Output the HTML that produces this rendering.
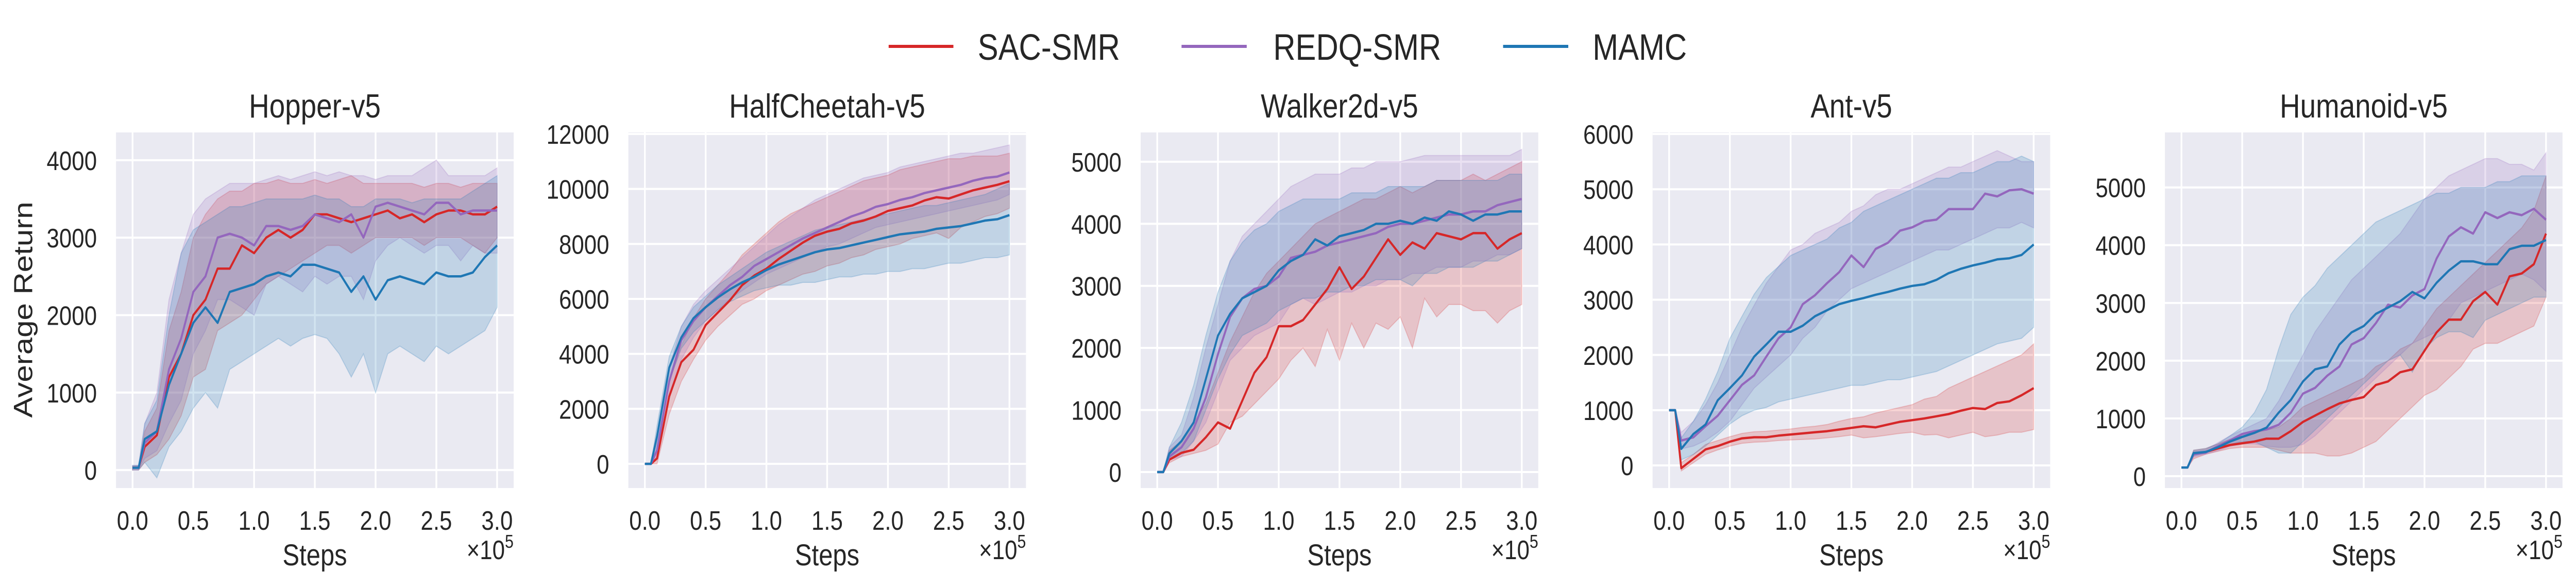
<!DOCTYPE html>
<html><head><meta charset="utf-8"><style>
html,body{margin:0;padding:0;background:#fff;width:100%;height:100%;overflow:hidden;}
svg{display:block;width:100vw;height:100vh;font-family:"Liberation Sans",Arial,sans-serif;}
</style></head><body>
<svg id="fig" viewBox="0 0 5928 1141" preserveAspectRatio="none" xmlns="http://www.w3.org/2000/svg">
<g>
<line x1="2045" y1="90" x2="2194" y2="90" stroke="#d62728" stroke-width="6"/>
<text x="2250" y="116" font-size="71" fill="#262626">SAC-SMR</text>
<line x1="2719" y1="90" x2="2869" y2="90" stroke="#9467bd" stroke-width="6"/>
<text x="2930" y="116" font-size="71" fill="#262626">REDQ-SMR</text>
<line x1="3459" y1="90" x2="3609" y2="90" stroke="#1f77b4" stroke-width="6"/>
<text x="3665" y="116" font-size="71" fill="#262626">MAMC</text>
</g>
<text transform="translate(74,601) rotate(-90)" text-anchor="middle" font-size="60" fill="#262626">Average Return</text>
</svg>
<script>
const steps = [0,0.05,0.1,0.2,0.3,0.4,0.5,0.6,0.7,0.8,0.9,1.0,1.1,1.2,1.3,1.4,1.5,1.6,1.7,1.8,1.9,2.0,2.1,2.2,2.3,2.4,2.5,2.6,2.7,2.8,2.9,3.0];
const xTicks = [0,0.5,1.0,1.5,2.0,2.5,3.0];
const xTickLabels = ["0.0","0.5","1.0","1.5","2.0","2.5","3.0"];
const seriesNames = ["SAC-SMR","REDQ-SMR","MAMC"];
const panelTitles = ["Hopper-v5","HalfCheetah-v5","Walker2d-v5","Ant-v5","Humanoid-v5"];
const yTicksHopper = [0,1000,2000,3000,4000];
const yTicksCheetah = [0,2000,4000,6000,8000,10000,12000];
const yTicksWalker = [0,1000,2000,3000,4000,5000];
const yTicksAnt = [0,1000,2000,3000,4000,5000,6000];
const yTicksHumanoid = [0,1000,2000,3000,4000,5000];

// Hopper
const hopSacMean=[30,30,300,450,1200,1500,2000,2200,2600,2600,2900,2800,3000,3100,3000,3100,3300,3300,3250,3200,3250,3300,3350,3250,3300,3200,3300,3350,3350,3300,3300,3400];
const hopSacLow=[0,0,100,200,400,700,1200,1300,1800,1900,2000,2200,2400,2500,2600,2700,2800,2900,2900,2800,2900,3000,3000,3000,3000,2900,3000,3000,3000,2900,2800,3000];
const hopSacHigh=[50,50,500,800,1800,2300,3000,3300,3500,3600,3600,3700,3700,3750,3700,3700,3750,3700,3750,3800,3700,3700,3700,3700,3700,3650,3700,3700,3650,3700,3700,3700];
const hopRedqMean=[30,30,350,500,1300,1700,2300,2500,3000,3050,3000,2900,3150,3150,3100,3150,3300,3250,3200,3300,3000,3400,3450,3400,3350,3300,3450,3450,3300,3350,3350,3350];
const hopRedqLow=[0,0,150,250,600,900,1500,1800,2200,2200,2100,2000,2400,2500,2400,2300,2500,2400,2500,2500,2200,2700,2900,3000,2900,2800,2900,2900,2700,2900,2800,2800];
const hopRedqHigh=[60,60,600,1000,2200,2800,3300,3500,3600,3700,3700,3700,3750,3800,3750,3800,3850,3800,3850,3800,3800,3750,3800,3800,3800,3900,4000,3800,3800,3800,3800,3900];
const hopMamcMean=[30,30,400,500,1100,1500,1900,2100,1900,2300,2350,2400,2500,2550,2500,2650,2650,2600,2550,2300,2500,2200,2450,2500,2450,2400,2550,2500,2500,2550,2750,2900];
const hopMamcLow=[0,0,100,-100,300,500,800,1000,800,1300,1400,1500,1600,1700,1600,1700,1750,1700,1500,1200,1500,1000,1500,1600,1500,1400,1600,1500,1600,1700,1800,2100];
const hopMamcHigh=[60,60,600,900,2000,2800,3100,3200,3300,3400,3400,3450,3500,3500,3500,3500,3550,3500,3500,3400,3400,3500,3500,3500,3450,3500,3500,3500,3500,3600,3700,3800];

// HalfCheetah
const hcSacMean=[0,0,200,2450,3700,4150,5050,5500,5950,6500,6850,7100,7450,7750,8050,8300,8450,8550,8750,8850,9000,9200,9300,9400,9580,9700,9650,9800,9950,10050,10150,10280];
const hcSacLow=[0,0,0,1800,3000,3800,4500,5000,5400,5800,6000,6300,6500,6700,6900,7000,7200,7300,7500,7600,7800,7900,8000,8200,8300,8400,8200,8600,8800,9000,9100,9300];
const hcSacHigh=[0,0,400,3000,4300,5300,6000,6500,7000,7600,8000,8400,8800,9100,9300,9500,9700,9900,10100,10300,10400,10500,10700,10800,10900,11000,11100,11100,11200,11200,11200,11300];
const hcRedqMean=[0,0,500,3000,4500,5200,5700,6100,6500,6800,7200,7450,7700,7950,8200,8400,8600,8800,9000,9150,9350,9450,9600,9700,9850,9950,10050,10150,10300,10400,10450,10600];
const hcRedqLow=[0,0,200,2500,3800,4600,5200,5600,6000,6300,6600,6900,7100,7300,7500,7700,7900,8000,8200,8400,8600,8700,8800,8900,9000,9100,9200,9300,9400,9500,9600,9800];
const hcRedqHigh=[0,0,800,3500,5000,5800,6300,6700,7100,7500,7900,8300,8700,9000,9300,9600,9800,10000,10200,10400,10500,10600,10800,10900,11000,11100,11200,11300,11300,11400,11500,11600];
const hcMamcMean=[0,0,1000,3500,4600,5300,5700,6050,6350,6600,6800,7050,7250,7400,7550,7700,7800,7850,7950,8050,8150,8250,8350,8400,8450,8550,8600,8650,8750,8850,8900,9050];
const hcMamcLow=[0,0,500,3000,4200,4800,5200,5600,5900,6100,6300,6400,6500,6500,6600,6600,6700,6800,6800,6900,6900,7000,7000,7100,7100,7200,7300,7300,7400,7500,7500,7600];
const hcMamcHigh=[0,0,1400,3900,5000,5700,6100,6500,6800,7100,7400,7700,7900,8100,8300,8500,8600,8700,8800,8900,9000,9100,9200,9300,9400,9400,9500,9600,9700,9800,10000,10200];

// Walker2d
const wkSacMean=[0,0,200,310,360,560,800,700,1150,1600,1850,2350,2350,2450,2700,2950,3300,2950,3150,3450,3750,3500,3700,3600,3850,3800,3750,3850,3850,3600,3750,3850];
const wkSacLow=[0,0,150,250,300,350,450,800,900,1100,1300,1500,1800,2000,1700,2300,1800,2400,2000,2400,2300,2500,2000,2800,2500,2700,2700,2600,2600,2400,2600,2700];
const wkSacHigh=[0,0,350,500,800,1100,1600,2100,2500,2900,3200,3400,3600,3800,4000,4100,4200,4300,4400,4400,4500,4600,4500,4600,4700,4700,4700,4800,4700,4800,4900,5000];
const wkRedqMean=[0,0,250,400,700,1200,1900,2500,2800,2950,3000,3150,3450,3500,3550,3650,3700,3750,3800,3850,3950,4000,4000,4050,4100,4150,4150,4200,4200,4300,4350,4400];
const wkRedqLow=[0,0,200,250,500,800,1300,1800,2000,2200,2300,2400,2700,2800,2700,2800,2900,2900,3000,3000,3100,3100,3200,3200,3300,3300,3300,3400,3400,3500,3500,3600];
const wkRedqHigh=[0,0,400,600,1200,2000,2700,3400,3800,4000,4200,4400,4600,4700,4800,4800,4800,4900,4900,5000,5000,5000,5050,5100,5100,5100,5100,5100,5100,5100,5100,5200];
const wkMamcMean=[0,0,300,500,800,1500,2200,2550,2800,2900,3000,3250,3400,3500,3750,3650,3800,3850,3900,4000,4000,4050,4000,4100,4050,4200,4150,4050,4150,4150,4200,4200];
const wkMamcLow=[0,0,200,300,500,1000,1500,1900,2200,2300,2400,2600,2700,2800,2800,2900,2900,3000,3000,3100,3100,3100,3000,3200,3200,3300,3300,3300,3400,3400,3500,3600];
const wkMamcHigh=[0,0,400,800,1400,2200,2900,3400,3700,3900,4000,4200,4300,4400,4400,4400,4400,4500,4500,4500,4600,4600,4600,4600,4700,4700,4700,4700,4700,4700,4800,4800];

// Ant
const antSacMean=[1000,1000,-50,120,290,350,430,490,510,510,540,560,580,600,620,650,680,710,690,740,790,820,850,890,930,990,1040,1020,1130,1160,1270,1400];
const antSacLow=[1000,1000,-100,50,200,280,350,400,420,430,450,460,470,480,500,520,550,500,520,550,580,600,550,560,500,550,600,520,550,600,600,650];
const antSacHigh=[1000,1000,50,200,380,450,520,580,610,620,640,660,690,710,740,800,850,880,950,1000,1050,1100,1200,1250,1400,1500,1600,1700,1800,1900,2000,2200];
const antRedqMean=[1000,1000,450,510,710,900,1180,1460,1630,1970,2300,2500,2920,3080,3300,3500,3800,3590,3920,4030,4250,4310,4420,4450,4640,4640,4640,4920,4870,4980,5000,4920];
const antRedqLow=[1000,1000,300,350,450,600,800,1100,1400,1600,1800,2000,2300,2500,2800,3000,3200,3300,3400,3500,3600,3700,3800,3900,3900,4000,4100,4200,4300,4300,4400,4300];
const antRedqHigh=[1000,1000,600,800,1100,1500,2000,2500,2900,3300,3600,3900,4000,4200,4300,4400,4600,4700,4900,5000,5000,5100,5200,5300,5400,5400,5500,5600,5700,5600,5500,5500];
const antMamcMean=[1000,1000,300,570,740,1180,1400,1630,1970,2190,2420,2420,2530,2700,2810,2920,2980,3030,3090,3140,3200,3250,3280,3360,3480,3560,3620,3670,3730,3750,3810,4000];
const antMamcLow=[1000,1000,100,200,350,550,750,900,1000,1050,1150,1200,1250,1300,1350,1400,1450,1450,1500,1550,1550,1600,1650,1700,1800,1900,2000,2100,2200,2250,2300,2500];
const antMamcHigh=[1000,1000,500,800,1200,1700,2300,2700,3100,3400,3600,3800,3900,4000,4100,4300,4400,4600,4700,4800,4900,5000,5100,5200,5200,5300,5300,5400,5500,5500,5600,5500];

// Humanoid
const humSacMean=[150,150,380,420,480,540,570,600,650,650,780,940,1050,1160,1260,1320,1370,1580,1640,1800,1850,2170,2490,2710,2710,3030,3190,2970,3460,3510,3670,4200];
const humSacLow=[150,150,300,380,430,480,500,500,500,450,400,400,400,350,350,400,500,600,800,1000,1200,1400,1500,1700,1900,2200,2300,2300,2400,2500,2600,3100];
const humSacHigh=[150,150,450,480,560,640,700,750,800,850,1000,1200,1300,1400,1500,1600,1700,1900,2000,2200,2300,2600,2900,3100,3300,3500,3700,3900,4100,4300,4600,5200];
const humRedqMean=[150,150,380,410,520,620,730,780,810,890,1100,1430,1530,1740,1900,2280,2390,2650,2970,2920,3130,3240,3770,4150,4310,4200,4570,4470,4570,4520,4630,4440];
const humRedqLow=[150,150,330,380,440,520,560,560,520,500,500,550,700,900,1100,1300,1500,1700,1900,2100,2300,2400,2500,2700,3000,3100,3200,3300,3400,3500,3400,3200];
const humRedqHigh=[150,150,430,460,580,700,800,900,1000,1300,1700,2100,2500,2800,3100,3400,3600,3800,4000,4200,4500,4800,5000,5200,5300,5400,5500,5500,5400,5400,5300,5600];
const humMamcMean=[150,150,400,420,500,600,680,750,840,1100,1320,1640,1850,1900,2280,2490,2600,2810,2920,3030,3190,3080,3350,3560,3720,3720,3670,3670,3930,3990,3990,4090];
const humMamcLow=[150,150,350,400,480,550,600,600,500,400,400,600,800,1000,1200,1400,1600,1800,2000,2100,1800,2200,2400,2500,2500,2400,2700,2800,2900,3000,3100,3100];
const humMamcHigh=[150,150,450,480,560,700,850,1100,1500,2200,2800,3100,3300,3600,3800,4000,4200,4400,4500,4600,4700,4800,4900,4900,5000,5000,5000,5100,5100,5200,5200,5200];

const NS = "http://www.w3.org/2000/svg";
const svg = document.getElementById("fig");
const colors = ["#d62728","#9467bd","#1f77b4"];
const slugs = ["sac-smr","redq-smr","mamc"];
const panelLefts = [267,1446,2625,3803,4982];
const PW = 915, PT = 257, PB = 947;

const panels = [
 {title:panelTitles[0], ticks:yTicksHopper, ymin:-232, ymax:4358, s:[[hopSacMean,hopSacLow,hopSacHigh],[hopRedqMean,hopRedqLow,hopRedqHigh],[hopMamcMean,hopMamcLow,hopMamcHigh]]},
 {title:panelTitles[1], ticks:yTicksCheetah, ymin:-879, ymax:12056, s:[[hcSacMean,hcSacLow,hcSacHigh],[hcRedqMean,hcRedqLow,hcRedqHigh],[hcMamcMean,hcMamcLow,hcMamcHigh]]},
 {title:panelTitles[2], ticks:yTicksWalker, ymin:-257, ymax:5472, s:[[wkSacMean,wkSacLow,wkSacHigh],[wkRedqMean,wkRedqLow,wkRedqHigh],[wkMamcMean,wkMamcLow,wkMamcHigh]]},
 {title:panelTitles[3], ticks:yTicksAnt, ymin:-409, ymax:6028, s:[[antSacMean,antSacLow,antSacHigh],[antRedqMean,antRedqLow,antRedqHigh],[antMamcMean,antMamcLow,antMamcHigh]]},
 {title:panelTitles[4], ticks:yTicksHumanoid, ymin:-205, ymax:5952, s:[[humSacMean,humSacLow,humSacHigh],[humRedqMean,humRedqLow,humRedqHigh],[humMamcMean,humMamcLow,humMamcHigh]]}
];

function mk(tag, attrs, parent){
  const e = document.createElementNS(NS, tag);
  for (const k in attrs) e.setAttribute(k, attrs[k]);
  parent.appendChild(e);
  return e;
}

panels.forEach((p, pi) => {
  const L = panelLefts[pi], R = L + PW;
  const xs = v => L + (v + 0.136) / 3.272 * PW;
  const ys = v => PB - (v - p.ymin) / (p.ymax - p.ymin) * (PB - PT);
  const g = mk("g", {}, svg);
  
  
  const cid = "clip" + pi;
  const cp = mk("clipPath", {id: cid}, g);
  mk("rect", {x: L, y: PT, width: PW, height: PB - PT}, cp);
  const bg = mk("rect", {x: L, y: PT, width: PW, height: PB - PT, fill: "#eaeaf2"}, g);
  
  
  xTicks.forEach((t, i) => {
    const gl = mk("line", {x1: xs(t), x2: xs(t), y1: PT, y2: PB, stroke: "#fff", "stroke-width": 4}, g);
    
    
    const tl = mk("text", {x: xs(t), y: 1028, "text-anchor": "middle", "font-size": 52, fill: "#262626"}, g);
    
    
    tl.textContent = xTickLabels[i];
  });
  p.ticks.forEach(t => {
    const gl = mk("line", {x1: L, x2: R, y1: ys(t), y2: ys(t), stroke: "#fff", "stroke-width": 4}, g);
    
    
    const tl = mk("text", {x: L - 44, y: ys(t) + 19, "text-anchor": "end", "font-size": 52, fill: "#262626"}, g);
    
    
    tl.textContent = String(t);
  });
  const dg = mk("g", {"clip-path": "url(#" + cid + ")"}, g);
  p.s.forEach((sr, si) => {
    const [m, lo, hi] = sr;
    let d = "";
    for (let i = 0; i < steps.length; i++) d += (i ? "L" : "M") + xs(steps[i]).toFixed(1) + "," + ys(hi[i]).toFixed(1);
    for (let i = steps.length - 1; i >= 0; i--) d += "L" + xs(steps[i]).toFixed(1) + "," + ys(lo[i]).toFixed(1);
    d += "Z";
    const band = mk("path", {d: d, fill: colors[si], "fill-opacity": 0.2, stroke: colors[si], "stroke-opacity": 0.22, "stroke-width": 2}, dg);
    
    
  });
  p.s.forEach((sr, si) => {
    const m = sr[0];
    const pts = steps.map((s, i) => xs(s).toFixed(1) + "," + ys(m[i]).toFixed(1)).join(" ");
    const ln = mk("polyline", {points: pts, fill: "none", stroke: colors[si], "stroke-width": 4.5, "stroke-linejoin": "round"}, dg);
    
    
  });
  const tt = mk("text", {x: L + PW / 2, y: 228, "text-anchor": "middle", "font-size": 65, fill: "#262626"}, g);
  
  
  tt.textContent = p.title;
  const xl = mk("text", {x: L + PW / 2, y: 1097, "text-anchor": "middle", "font-size": 58, fill: "#262626"}, g);
  
  
  xl.textContent = "Steps";
  const ex = mk("text", {x: R, y: 1085, "text-anchor": "end", "font-size": 52, fill: "#262626"}, g);
  
  
  ex.innerHTML = '×10<tspan font-size="36" dy="-22">5</tspan>';
});
</script>
</body></html>
